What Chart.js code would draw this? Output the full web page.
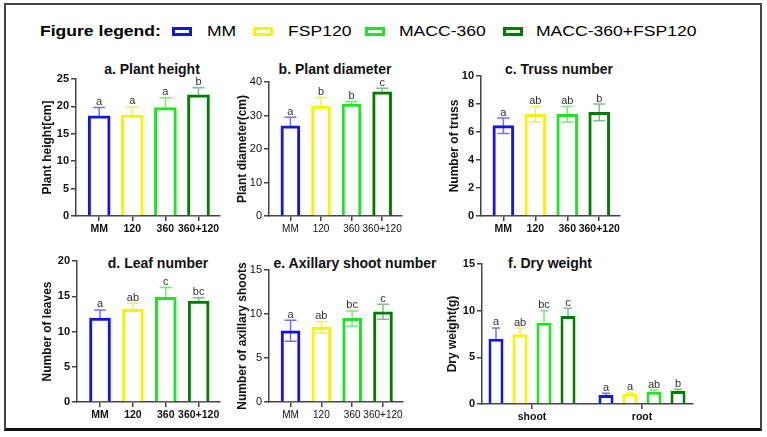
<!DOCTYPE html>
<html><head><meta charset="utf-8">
<script src="https://cdn.jsdelivr.net/npm/chart.js@4.4.0/dist/chart.umd.min.js"></script>
<style>
html,body{margin:0;padding:0;background:#fff;}
body{width:767px;height:437px;position:relative;overflow:hidden;font-family:"Liberation Sans",Arial,sans-serif;color:#000;}
#frame{position:absolute;left:4px;top:3px;width:754px;height:423px;border:2px solid #444;border-bottom:3px solid #111;}
.lg{position:absolute;top:21px;font-size:15px;line-height:20px;white-space:nowrap;transform:scaleX(1.17);transform-origin:0 0;}
.box{position:absolute;top:27px;width:14px;height:3px;border:3px solid;}
.pt{position:absolute;font-weight:bold;font-size:14px;line-height:18px;white-space:nowrap;transform:translateX(-50%);color:#111;}
canvas{position:absolute;}
</style></head>
<body>
<div id="frame"></div>
<div class="lg" style="left:40px;font-weight:bold;">Figure legend:</div>
<div id="legend"></div>
<div class="pt" style="left:152px;top:60px">a. Plant height</div>
<div class="pt" style="left:335px;top:60px">b. Plant diameter</div>
<div class="pt" style="left:559px;top:60px">c. Truss number</div>
<div class="pt" style="left:158px;top:254px">d. Leaf number</div>
<div class="pt" style="left:355px;top:254px">e. Axillary shoot number</div>
<div class="pt" style="left:550px;top:254px">f. Dry weight</div>
<script>
// ---------- data ----------
const treatments = ['MM', '120', '360', '360+120'];
const legendNames = ['MM', 'FSP120', 'MACC-360', 'MACC-360+FSP120'];

const heightMean = [18.3, 18.4, 19.8, 22.1];
const heightErr  = [1.5, 1.5, 1.8, 1.3];
const heightSig  = ['a', 'a', 'a', 'b'];

const diameterMean = [26.9, 32.8, 33.4, 37.1];
const diameterErr  = [2.6, 2.6, 0.8, 1.0];
const diameterSig  = ['a', 'b', 'b', 'c'];

const trussMean = [6.45, 7.27, 7.27, 7.4];
const trussErr  = [0.55, 0.55, 0.55, 0.6];
const trussSig  = ['a', 'ab', 'ab', 'b'];

const leafMean = [11.9, 13.15, 14.85, 14.3];
const leafErr  = [1.15, 0.85, 1.4, 0.5];
const leafSig  = ['a', 'ab', 'c', 'bc'];

const axShootMean = [8.1, 8.5, 9.5, 10.25];
const axShootErr  = [1.2, 0.65, 0.85, 0.85];
const axShootSig  = ['a', 'ab', 'bc', 'c'];

const dryParts = ['shoot', 'root'];
const dryMM       = [7.0, 0.96];
const dry120      = [7.47, 1.1];
const dry360      = [8.7, 1.32];
const dry360120   = [9.43, 1.39];
const dryMMErr     = [1.15, 0.18];
const dry120Err    = [0.65, 0.08];
const dry360Err    = [1.3, 0.18];
const dry360120Err = [0.83, 0.18];
const dryMMSig     = ['a', 'a'];
const dry120Sig    = ['ab', 'a'];
const dry360Sig    = ['bc', 'ab'];
const dry360120Sig = ['c', 'b'];

// ---------- styles ----------
const FONT = '"Liberation Sans", Arial, sans-serif';
const barColors = ['#1414e6', '#f5f500', '#1ee61e', '#007d00'];
const errColors = ['rgba(20,20,230,0.6)', 'rgba(225,225,0,0.6)', 'rgba(30,220,30,0.6)', 'rgba(0,125,40,0.5)'];

// legend
(function(){
  const lg = document.getElementById('legend');
  const boxX = [172, 253, 365, 503];
  const textX = [207, 288, 399, 536];
  legendNames.forEach((n, i) => {
    const b = document.createElement('div');
    b.className = 'box'; b.style.left = boxX[i] + 'px'; b.style.borderColor = barColors[i];
    lg.appendChild(b);
    const t = document.createElement('div');
    t.className = 'lg'; t.style.left = textX[i] + 'px'; t.textContent = n;
    lg.appendChild(t);
  });
})();

const errPlugin = {
  id: 'errbars',
  afterDatasetsDraw(chart, args, opts) {
    const ctx = chart.ctx, ys = chart.scales.y;
    chart.data.datasets.forEach((ds, di) => {
      const meta = chart.getDatasetMeta(di);
      meta.data.forEach((bar, i) => {
        const v = ds.data[i].y, e = ds.errors[i];
        const x = bar.x;
        const top = ys.getPixelForValue(v + e);
        const bot = opts.twoSided ? ys.getPixelForValue(v - e) : ys.getPixelForValue(v);
        const cw = opts.capWidth / 2;
        ctx.save();
        ctx.strokeStyle = Array.isArray(ds.errColor) ? ds.errColor[i] : ds.errColor;
        ctx.lineWidth = 1.5;
        ctx.beginPath();
        ctx.moveTo(x, top); ctx.lineTo(x, bot);
        ctx.moveTo(x - cw, top); ctx.lineTo(x + cw, top);
        if (opts.twoSided) { ctx.moveTo(x - cw, bot); ctx.lineTo(x + cw, bot); }
        ctx.stroke();
        ctx.fillStyle = '#333';
        ctx.font = '11px ' + FONT;
        ctx.textAlign = 'center'; ctx.textBaseline = 'alphabetic';
        ctx.fillText(ds.letters[i], x, top - 2.5);
        ctx.restore();
      });
    });
  }
};

function single(means, errs, sig, thick) {
  return [{
    data: means.map((v, i) => ({x: i, y: v})),
    errors: errs, letters: sig,
    backgroundColor: '#fff',
    borderColor: barColors.slice(0, means.length),
    errColor: errColors,
    borderWidth: 3,
    barThickness: thick
  }];
}

function makePanel(p) {
  const left = p.yTitleX - 10, top = p.top - 12;
  const w = p.axisR + 30 - left, h = p.bottom + 26 - top;
  const cv = document.createElement('canvas');
  cv.width = w; cv.height = h;
  cv.style.left = left + 'px'; cv.style.top = top + 'px';
  cv.style.width = w + 'px'; cv.style.height = h + 'px';
  document.body.appendChild(cv);
  const Wy = p.axisL - left;
  const yFont = {family: FONT, size: 11, weight: p.bold ? 'bold' : 'normal'};
  const xFont = {family: FONT, size: p.bold ? 10.5 : 10, weight: p.bold ? 'bold' : 'normal'};
  const gridOpt = {display: true, drawOnChartArea: false, drawTicks: true, tickLength: 5, color: '#444', lineWidth: 1.5, offset: false};
  const borderOpt = {display: true, color: '#444', width: 1.5};
  new Chart(cv, {
    type: 'bar',
    data: {datasets: p.datasets},
    options: {
      responsive: false, animation: false, devicePixelRatio: 1,
      layout: {padding: {top: 12, right: 30, left: 0, bottom: 0}},
      plugins: {legend: {display: false}, tooltip: {enabled: false},
        errbars: {twoSided: p.twoSided, capWidth: p.capW}},
      scales: {
        x: {type: 'linear', min: p.xmin, max: p.xmax, offset: false,
          afterFit: s => { s.height = 26; },
          afterBuildTicks: s => { s.ticks = p.labels.map((_, i) => ({value: i})); },
          ticks: {callback: v => (p.labels[v] !== undefined ? p.labels[v] : ''), autoSkip: false, maxRotation: 0, padding: 2, color: '#111', font: xFont},
          grid: gridOpt, border: borderOpt},
        y: {min: 0, max: p.ymax,
          afterFit: s => { s.width = Wy; },
          ticks: {stepSize: p.step, padding: 2, color: '#111', font: yFont},
          grid: gridOpt, border: borderOpt,
          title: {display: true, text: p.ytitle, color: '#111',
            font: {family: FONT, size: 12, weight: 'bold', lineHeight: 1.2},
            padding: {top: 2.8, bottom: 0}}}
      }
    },
    plugins: [errPlugin]
  });
}

const XMIN = -0.7, XMAX = 3.65;

makePanel({axisL: 76, axisR: 220, top: 79, bottom: 216, yTitleX: 48, ymax: 25, step: 5,
  xmin: XMIN, xmax: XMAX, labels: treatments, bold: true, twoSided: false, capW: 12,
  ytitle: 'Plant height[cm]', datasets: single(heightMean, heightErr, heightSig, 22)});
makePanel({axisL: 269, axisR: 402, top: 82, bottom: 216, yTitleX: 243, ymax: 40, step: 10,
  xmin: XMIN, xmax: XMAX, labels: treatments, bold: false, twoSided: false, capW: 12,
  ytitle: 'Plant diameter(cm)', datasets: single(diameterMean, diameterErr, diameterSig, 19)});
makePanel({axisL: 481, axisR: 620, top: 76, bottom: 216, yTitleX: 455, ymax: 10, step: 2,
  xmin: XMIN, xmax: XMAX, labels: treatments, bold: true, twoSided: true, capW: 12,
  ytitle: 'Number of truss', datasets: single(trussMean, trussErr, trussSig, 21)});
makePanel({axisL: 77, axisR: 220, top: 261, bottom: 402, yTitleX: 48, ymax: 20, step: 5,
  xmin: XMIN, xmax: XMAX, labels: treatments, bold: true, twoSided: false, capW: 12,
  ytitle: 'Number of leaves', datasets: single(leafMean, leafErr, leafSig, 21)});
makePanel({axisL: 269, axisR: 403, top: 270, bottom: 402, yTitleX: 243, ymax: 15, step: 5,
  xmin: XMIN, xmax: XMAX, labels: treatments, bold: false, twoSided: true, capW: 12,
  ytitle: 'Number of axillary shoots', datasets: single(axShootMean, axShootErr, axShootSig, 19)});

const dryMeans = [dryMM, dry120, dry360, dry360120];
const dryErrs = [dryMMErr, dry120Err, dry360Err, dry360120Err];
const drySigs = [dryMMSig, dry120Sig, dry360Sig, dry360120Sig];
const drySets = dryMeans.map((m, k) => ({
  data: m.map((v, i) => ({x: i, y: v})),
  errors: dryErrs[k], letters: drySigs[k],
  backgroundColor: '#fff', borderColor: barColors[k], errColor: errColors[k],
  borderWidth: 3, categoryPercentage: 0.873, barPercentage: 0.625
}));
makePanel({axisL: 482, axisR: 693, top: 264, bottom: 404, yTitleX: 453, ymax: 15, step: 5,
  xmin: -0.4545, xmax: 1.4636, labels: dryParts, bold: true, twoSided: false, capW: 8,
  ytitle: 'Dry weight(g)', datasets: drySets});
</script>
</body></html>
